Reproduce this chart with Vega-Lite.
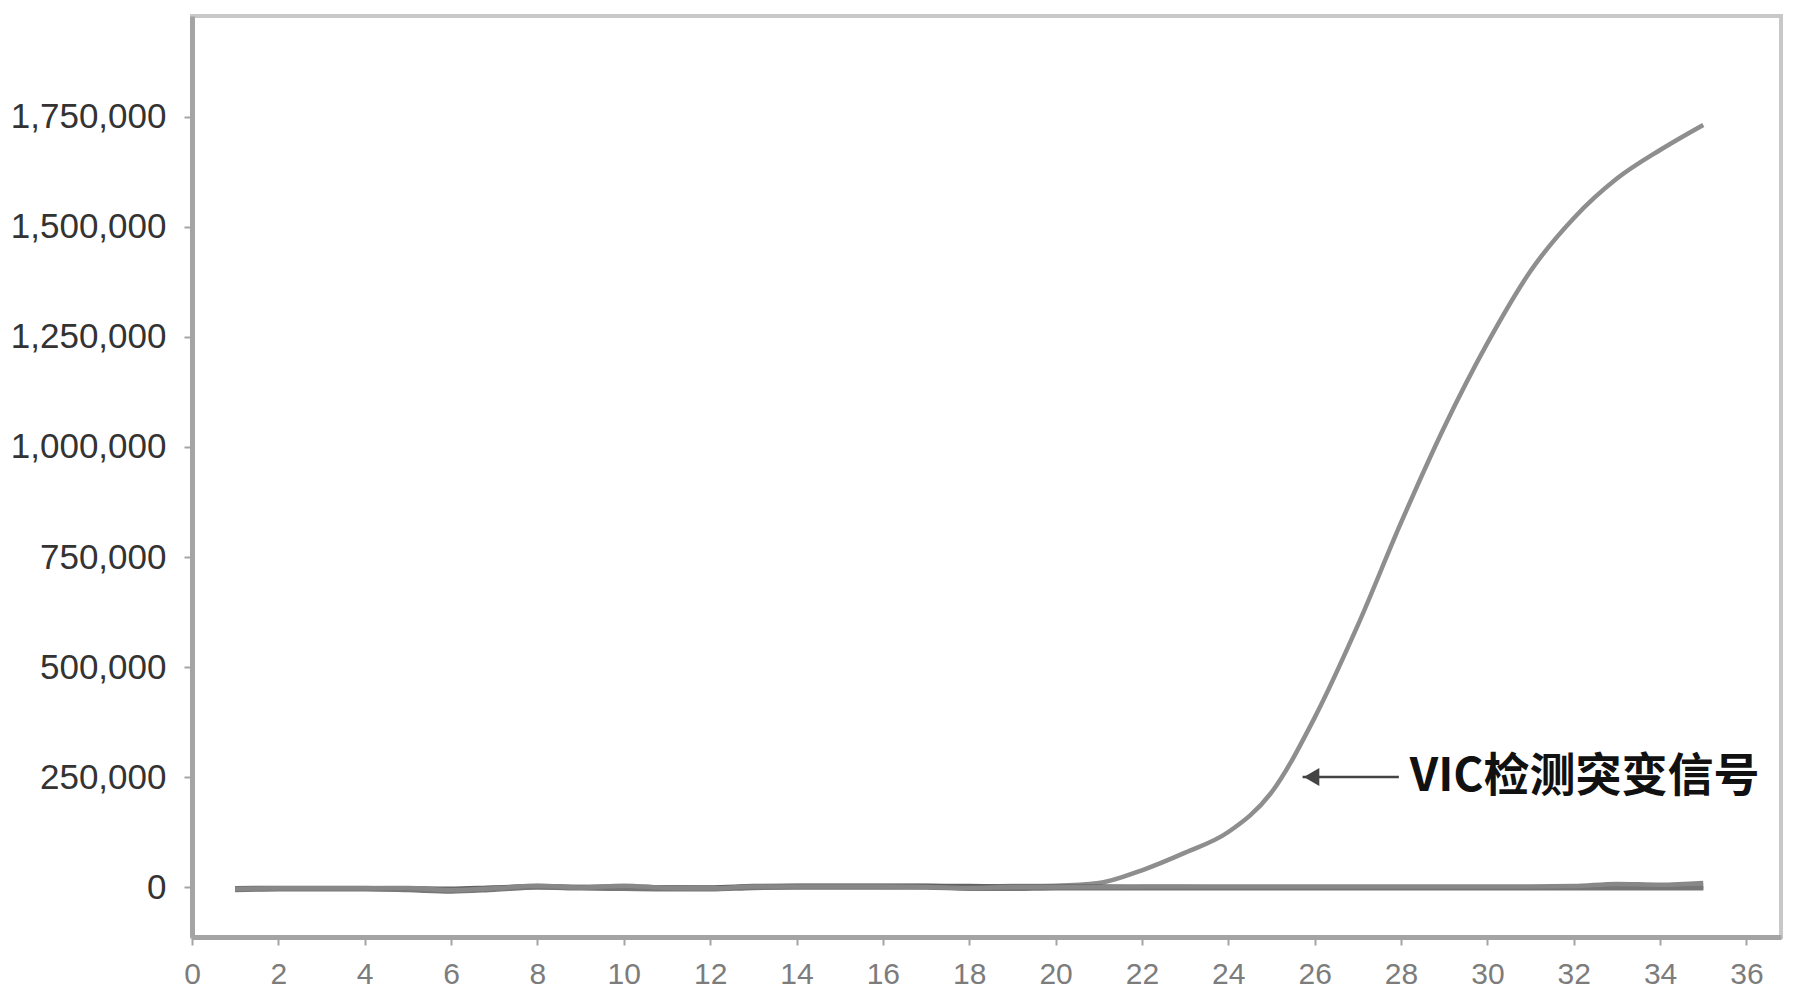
{
  "$schema": "https://vega.github.io/schema/vega-lite/v6.json",
  "width": 1589,
  "height": 921,
  "autosize": {"type": "none"},
  "padding": {"left": 192, "top": 16, "right": 14, "bottom": 68},
  "background": "white",
  "config": {
    "view": {"stroke": "#c8c8c8", "strokeWidth": 4},
    "axis": {"grid": false}
  },
  "datasets": {
    "curves": [
      {"cycle": 1, "value": -6000, "series": "VIC"}, {"cycle": 2, "value": -4000, "series": "VIC"}, {"cycle": 3, "value": -4000, "series": "VIC"}, {"cycle": 4, "value": -3000, "series": "VIC"}, {"cycle": 5, "value": -4000, "series": "VIC"}, {"cycle": 6, "value": -6000, "series": "VIC"}, {"cycle": 7, "value": -2000, "series": "VIC"}, {"cycle": 8, "value": 2000, "series": "VIC"}, {"cycle": 9, "value": 0, "series": "VIC"}, {"cycle": 10, "value": 1000, "series": "VIC"}, {"cycle": 11, "value": -1000, "series": "VIC"}, {"cycle": 12, "value": -2000, "series": "VIC"}, {"cycle": 13, "value": 1000, "series": "VIC"}, {"cycle": 14, "value": 2000, "series": "VIC"}, {"cycle": 15, "value": 2000, "series": "VIC"}, {"cycle": 16, "value": 2000, "series": "VIC"}, {"cycle": 17, "value": 2000, "series": "VIC"}, {"cycle": 18, "value": 1000, "series": "VIC"}, {"cycle": 19, "value": 2000, "series": "VIC"}, {"cycle": 20, "value": 3000, "series": "VIC"}, {"cycle": 21, "value": 9000, "series": "VIC"}, {"cycle": 22, "value": 38000, "series": "VIC"}, {"cycle": 23, "value": 78000, "series": "VIC"}, {"cycle": 24, "value": 125000, "series": "VIC"}, {"cycle": 25, "value": 215000, "series": "VIC"}, {"cycle": 26, "value": 385000, "series": "VIC"}, {"cycle": 27, "value": 595000, "series": "VIC"}, {"cycle": 28, "value": 828000, "series": "VIC"}, {"cycle": 29, "value": 1045000, "series": "VIC"}, {"cycle": 30, "value": 1236000, "series": "VIC"}, {"cycle": 31, "value": 1400000, "series": "VIC"}, {"cycle": 32, "value": 1520000, "series": "VIC"}, {"cycle": 33, "value": 1610000, "series": "VIC"}, {"cycle": 34, "value": 1675000, "series": "VIC"}, {"cycle": 35, "value": 1732000, "series": "VIC"},

      {"cycle": 1, "value": -3000, "series": "B1"}, {"cycle": 2, "value": -2000, "series": "B1"}, {"cycle": 3, "value": -2000, "series": "B1"}, {"cycle": 4, "value": -2000, "series": "B1"}, {"cycle": 5, "value": -3000, "series": "B1"}, {"cycle": 6, "value": -4000, "series": "B1"}, {"cycle": 7, "value": -1000, "series": "B1"}, {"cycle": 8, "value": 1000, "series": "B1"}, {"cycle": 9, "value": 0, "series": "B1"}, {"cycle": 10, "value": 0, "series": "B1"}, {"cycle": 11, "value": -1000, "series": "B1"}, {"cycle": 12, "value": -1000, "series": "B1"}, {"cycle": 13, "value": 2000, "series": "B1"}, {"cycle": 14, "value": 3000, "series": "B1"}, {"cycle": 15, "value": 3000, "series": "B1"}, {"cycle": 16, "value": 3000, "series": "B1"}, {"cycle": 17, "value": 3000, "series": "B1"}, {"cycle": 18, "value": 2000, "series": "B1"}, {"cycle": 19, "value": 1000, "series": "B1"}, {"cycle": 20, "value": 1000, "series": "B1"}, {"cycle": 21, "value": 1000, "series": "B1"}, {"cycle": 22, "value": 0, "series": "B1"}, {"cycle": 23, "value": 0, "series": "B1"}, {"cycle": 24, "value": -1000, "series": "B1"}, {"cycle": 25, "value": -1000, "series": "B1"}, {"cycle": 26, "value": -1000, "series": "B1"}, {"cycle": 27, "value": -1000, "series": "B1"}, {"cycle": 28, "value": -1000, "series": "B1"}, {"cycle": 29, "value": -1000, "series": "B1"}, {"cycle": 30, "value": -1000, "series": "B1"}, {"cycle": 31, "value": -1000, "series": "B1"}, {"cycle": 32, "value": -1000, "series": "B1"}, {"cycle": 33, "value": -1000, "series": "B1"}, {"cycle": 34, "value": -1000, "series": "B1"}, {"cycle": 35, "value": -1000, "series": "B1"},

      {"cycle": 1, "value": -7000, "series": "B2"}, {"cycle": 2, "value": -5000, "series": "B2"}, {"cycle": 3, "value": -5000, "series": "B2"}, {"cycle": 4, "value": -5000, "series": "B2"}, {"cycle": 5, "value": -7000, "series": "B2"}, {"cycle": 6, "value": -10000, "series": "B2"}, {"cycle": 7, "value": -6000, "series": "B2"}, {"cycle": 8, "value": -1000, "series": "B2"}, {"cycle": 9, "value": -3000, "series": "B2"}, {"cycle": 10, "value": -4000, "series": "B2"}, {"cycle": 11, "value": -5000, "series": "B2"}, {"cycle": 12, "value": -5000, "series": "B2"}, {"cycle": 13, "value": -2000, "series": "B2"}, {"cycle": 14, "value": -1000, "series": "B2"}, {"cycle": 15, "value": -1000, "series": "B2"}, {"cycle": 16, "value": -1000, "series": "B2"}, {"cycle": 17, "value": -1000, "series": "B2"}, {"cycle": 18, "value": -4000, "series": "B2"}, {"cycle": 19, "value": -4000, "series": "B2"}, {"cycle": 20, "value": -3000, "series": "B2"}, {"cycle": 21, "value": -3000, "series": "B2"}, {"cycle": 22, "value": -3000, "series": "B2"}, {"cycle": 23, "value": -3000, "series": "B2"}, {"cycle": 24, "value": -3000, "series": "B2"}, {"cycle": 25, "value": -3000, "series": "B2"}, {"cycle": 26, "value": -3000, "series": "B2"}, {"cycle": 27, "value": -3000, "series": "B2"}, {"cycle": 28, "value": -3000, "series": "B2"}, {"cycle": 29, "value": -3000, "series": "B2"}, {"cycle": 30, "value": -3000, "series": "B2"}, {"cycle": 31, "value": -3000, "series": "B2"}, {"cycle": 32, "value": -3000, "series": "B2"}, {"cycle": 33, "value": -3000, "series": "B2"}, {"cycle": 34, "value": -3000, "series": "B2"}, {"cycle": 35, "value": -3000, "series": "B2"},

      {"cycle": 1, "value": -4000, "series": "B3"}, {"cycle": 2, "value": -3000, "series": "B3"}, {"cycle": 3, "value": -3000, "series": "B3"}, {"cycle": 4, "value": -3000, "series": "B3"}, {"cycle": 5, "value": -2000, "series": "B3"}, {"cycle": 6, "value": -7000, "series": "B3"}, {"cycle": 7, "value": -3000, "series": "B3"}, {"cycle": 8, "value": 3000, "series": "B3"}, {"cycle": 9, "value": -1000, "series": "B3"}, {"cycle": 10, "value": 3000, "series": "B3"}, {"cycle": 11, "value": -2000, "series": "B3"}, {"cycle": 12, "value": -3000, "series": "B3"}, {"cycle": 13, "value": 1000, "series": "B3"}, {"cycle": 14, "value": 1000, "series": "B3"}, {"cycle": 15, "value": 1000, "series": "B3"}, {"cycle": 16, "value": 1000, "series": "B3"}, {"cycle": 17, "value": 0, "series": "B3"}, {"cycle": 18, "value": -2000, "series": "B3"}, {"cycle": 19, "value": 0, "series": "B3"}, {"cycle": 20, "value": 0, "series": "B3"}, {"cycle": 21, "value": 0, "series": "B3"}, {"cycle": 22, "value": 1000, "series": "B3"}, {"cycle": 23, "value": 1000, "series": "B3"}, {"cycle": 24, "value": 1000, "series": "B3"}, {"cycle": 25, "value": 1000, "series": "B3"}, {"cycle": 26, "value": 1000, "series": "B3"}, {"cycle": 27, "value": 1000, "series": "B3"}, {"cycle": 28, "value": 1000, "series": "B3"}, {"cycle": 29, "value": 1000, "series": "B3"}, {"cycle": 30, "value": 1000, "series": "B3"}, {"cycle": 31, "value": 1000, "series": "B3"}, {"cycle": 32, "value": 2000, "series": "B3"}, {"cycle": 33, "value": 7000, "series": "B3"}, {"cycle": 34, "value": 5000, "series": "B3"}, {"cycle": 35, "value": 9000, "series": "B3"}
    ],
    "note": [
      {"label": "VIC检测突变信号", "cycle": 28.2, "cycleEnd": 25.72, "lineEnd": 27.95, "value": 250000}
    ]
  },
  "layer": [
    {
      "data": {"name": "curves"},
      "mark": {"type": "line", "strokeWidth": 4.5, "interpolate": "monotone"},
      "encoding": {
        "x": {
          "field": "cycle", "type": "quantitative",
          "scale": {"domain": [0, 36.8], "nice": false, "zero": false},
          "axis": {
            "values": [0, 2, 4, 6, 8, 10, 12, 14, 16, 18, 20, 22, 24, 26, 28, 30, 32, 34, 36],
            "title": null,
            "domainColor": "#a4a4a4", "domainWidth": 5,
            "tickColor": "#a4a4a4", "tickSize": 8, "tickWidth": 2,
            "labelFont": "Liberation Sans",
            "labelFontSize": 30, "labelColor": "#7c7c7c",
            "labelPadding": 14, "labelFlush": false
          }
        },
        "y": {
          "field": "value", "type": "quantitative",
          "scale": {"domain": [-113636, 1979545], "nice": false, "zero": false},
          "axis": {
            "values": [0, 250000, 500000, 750000, 1000000, 1250000, 1500000, 1750000],
            "format": ",d",
            "title": null,
            "domainColor": "#a4a4a4", "domainWidth": 5,
            "tickColor": "#a4a4a4", "tickSize": 8, "tickWidth": 2,
            "labelFont": "Liberation Sans",
            "labelFontSize": 35, "labelColor": "#333333",
            "labelPadding": 18, "labelLimit": 400
          }
        },
        "detail": {"field": "series"},
        "color": {
          "field": "series", "type": "nominal",
          "scale": {"domain": ["B2", "B3", "B1", "VIC"], "range": ["#777777", "#888888", "#606060", "#8e8e8e"]},
          "legend": null
        },
        "order": {"field": "cycle", "type": "quantitative"}
      }
    },
    {
      "data": {"name": "note"},
      "mark": {"type": "rule", "color": "#444444", "strokeWidth": 2.5},
      "encoding": {
        "x": {"field": "cycleEnd", "type": "quantitative"},
        "x2": {"field": "lineEnd"},
        "y": {"field": "value", "type": "quantitative"}
      }
    },
    {
      "data": {"name": "note"},
      "mark": {"type": "point", "shape": "triangle-left", "filled": true, "color": "#444444", "size": 320, "opacity": 1, "xOffset": 9},
      "encoding": {
        "x": {"field": "cycleEnd", "type": "quantitative"},
        "y": {"field": "value", "type": "quantitative"}
      }
    },
    {
      "data": {"name": "note"},
      "mark": {"type": "text", "align": "left", "baseline": "middle", "font": "Noto Sans CJK SC", "fontSize": 46, "fontWeight": "bold", "color": "#111111"},
      "encoding": {
        "x": {"field": "cycle", "type": "quantitative"},
        "y": {"field": "value", "type": "quantitative"},
        "text": {"field": "label"}
      }
    }
  ]
}
